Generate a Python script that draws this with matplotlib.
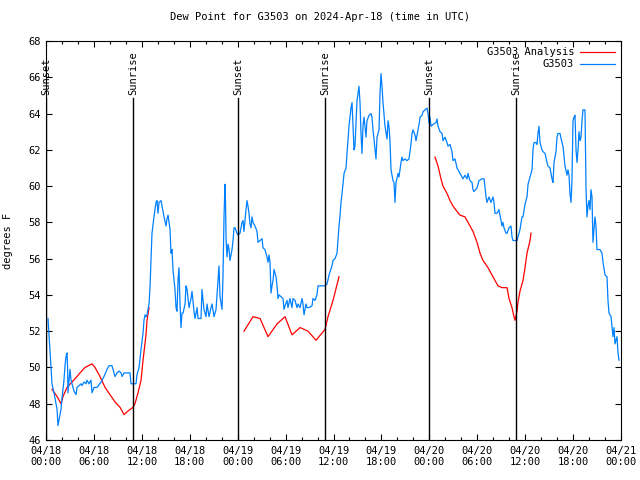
import matplotlib
matplotlib.use('Agg')
import matplotlib.pyplot as plt
from matplotlib.ticker import MultipleLocator

# hours since 2024-04-18 00:00 UTC
obs_hours = [0.25, 0.5, 0.63, 0.75, 1.0, 1.38, 1.5, 1.63, 1.88, 2.0, 2.25, 2.38, 2.5, 2.63, 2.7,
             2.75, 2.88, 3.0, 3.13, 3.25, 3.5, 3.76, 3.88, 4.13, 4.38, 4.51, 4.76, 5.01, 5.13,
             5.38, 5.63, 5.76, 6.01, 6.39, 6.89, 7.26, 7.64, 7.89, 8.26, 8.64, 8.89, 9.14, 9.39,
             9.52, 9.77, 10.14, 10.52, 10.64, 10.89, 11.27, 11.39, 11.65, 11.9, 12.15, 12.27,
             12.4, 12.52, 12.65, 12.9, 13.02, 13.15, 13.27, 13.52, 13.77, 13.9, 14.02, 14.15,
             14.4, 14.53, 14.78, 15.03, 15.15, 15.28, 15.53, 15.65, 15.78, 15.9, 16.15, 16.28,
             16.4, 16.53, 16.65, 16.78, 16.9, 17.03, 17.16, 17.41, 17.53, 17.66, 17.91, 18.16,
             18.28, 18.53, 18.66, 18.91, 19.03, 19.41, 19.53, 19.78, 20.04, 20.16, 20.41, 20.66,
             20.79, 21.04, 21.29, 21.41, 21.66, 21.79, 22.04, 22.16, 22.29, 22.41, 22.48, 22.54,
             22.66, 22.79, 22.92, 23.04, 23.29, 23.42, 23.54, 23.67, 23.92, 24.04, 24.29, 24.54,
             24.67, 24.79, 25.04, 25.17, 25.29, 25.42, 25.54, 25.67, 25.8, 25.92, 26.17, 26.42,
             26.55, 26.8, 27.05, 27.17, 27.42, 27.67, 27.8, 27.92, 28.05, 28.17, 28.3, 28.43,
             28.55, 28.8, 28.93, 29.05, 29.18, 29.43, 29.68, 29.8, 29.93, 30.18, 30.3, 30.55,
             30.8, 30.93, 31.18, 31.43, 31.56, 31.81, 32.06, 32.18, 32.31, 32.56, 32.68, 32.93,
             33.31, 33.43, 33.68, 33.93, 34.06, 34.56, 34.94, 35.19, 35.44, 35.81, 35.94, 36.19,
             36.44, 36.56, 36.69, 36.82, 36.94, 37.07, 37.32, 37.57, 37.69, 37.94, 38.19, 38.32,
             38.44, 38.57, 38.69, 38.94, 39.07, 39.19, 39.32, 39.44, 39.57, 39.69, 39.82, 39.94,
             40.07, 40.19, 40.45, 40.7, 40.82, 40.95, 41.2, 41.32, 41.45, 41.7, 41.82, 41.95,
             42.07, 42.2, 42.45, 42.7, 42.83, 42.95, 43.08, 43.2, 43.45, 43.58, 43.7, 43.83,
             44.08, 44.2, 44.45, 44.58, 44.7, 44.95, 45.2, 45.45, 45.7, 45.83, 45.96, 46.21,
             46.33, 46.46, 46.71, 46.83, 47.08, 47.21, 47.46, 47.71, 47.83, 47.96, 48.08, 48.21,
             48.46, 48.84, 48.96, 49.09, 49.34, 49.59, 49.71, 49.96, 50.21, 50.34, 50.59, 50.84,
             50.96, 51.21, 51.47, 51.59, 51.84, 52.09, 52.22, 52.47, 52.72, 52.84, 53.09, 53.34,
             53.47, 53.59, 53.97, 54.22, 54.6, 54.85, 55.1, 55.22, 55.47, 55.72, 55.97, 56.1,
             56.22, 56.47, 56.72, 56.97, 57.1, 57.22, 57.35, 57.6, 57.73, 57.98, 58.23, 58.35,
             58.48, 58.98, 59.1, 59.35, 59.6, 59.73, 59.98, 60.23, 60.36, 60.61, 60.86, 60.98,
             61.11, 61.36, 61.48, 61.61, 61.73, 61.86, 62.11, 62.24, 62.49, 62.74, 62.86, 63.11,
             63.36, 63.49, 63.61, 63.86, 63.99, 64.11, 64.36, 64.61, 64.74, 64.99, 65.24, 65.36,
             65.49, 65.61, 65.74, 65.86, 65.99, 66.12, 66.24, 66.37, 66.49, 66.62, 66.74, 66.87,
             66.99, 67.12, 67.24, 67.49, 67.62, 67.74, 67.87, 67.99, 68.12, 68.24, 68.37, 68.49,
             68.62, 68.74, 68.87, 68.99, 69.37, 69.62, 69.75, 70.0, 70.25, 70.37, 70.5, 70.75,
             71.0, 71.13, 71.25, 71.5, 71.63, 71.75]
obs_dewpt = [52.7, 50.9, 50.0, 49.1, 48.6, 47.7, 46.8, 47.1, 47.7, 48.3, 49.3, 50.1, 50.6, 50.8, 50.0,
             48.6, 49.3, 49.9, 49.3, 49.1, 48.7, 48.5, 48.9, 49.0, 49.1, 49.0, 49.2, 49.1, 49.3,
             49.1, 49.3, 48.6, 48.9, 48.9, 49.2, 49.5, 49.9, 50.1, 50.1, 49.5, 49.7, 49.8, 49.7,
             49.5, 49.7, 49.7, 49.7, 49.1, 49.1, 49.1, 49.6, 50.0, 51.0, 51.9, 52.6,
             52.9, 52.8, 52.9, 53.5, 54.4, 55.9, 57.4, 58.3, 59.1, 59.2, 58.5, 59.1,
             59.2, 58.9, 58.3, 57.8, 58.2, 58.4, 57.6, 56.3, 56.5, 55.4, 54.3, 53.3,
             53.1, 54.8, 55.5, 53.5, 52.2, 53.0, 53.0, 53.5, 54.5, 54.3, 53.3, 53.8,
             54.2, 53.1, 52.7, 53.3, 52.7, 52.7, 54.3, 53.2, 52.8, 53.5, 52.8, 53.3,
             53.5, 52.8, 53.2, 54.0, 55.6, 53.9, 53.2, 55.0, 58.3, 60.1, 59.1, 57.2,
             56.1, 56.8, 56.5, 55.9, 56.5, 57.0, 57.7, 57.7, 57.4, 57.3, 57.4, 58.0,
             58.1, 57.5, 58.7, 59.2, 58.9, 58.5, 57.9, 57.7, 58.3, 58.0, 57.8, 57.5,
             56.9, 57.0, 57.1, 56.6, 56.5, 56.1, 55.8, 56.2, 55.8, 54.1, 54.5, 54.8,
             55.4, 55.0, 54.5, 53.8, 54.0, 53.9, 53.8, 53.2, 53.4, 53.7, 53.3, 53.8,
             53.3, 53.8, 53.7, 53.3, 53.5, 53.3, 53.8, 53.5, 52.9, 53.5, 53.3, 53.3,
             53.4, 53.8, 53.7, 54.0, 54.5, 54.5, 54.5, 54.6, 55.1, 55.6, 55.9, 56.0,
             56.3, 57.0, 57.8, 58.4, 59.1, 59.6, 60.7, 61.0, 61.8, 63.3, 64.3, 64.6,
             63.3, 62.0, 62.2, 64.7, 65.1, 65.5, 64.6, 62.9, 61.8, 63.3, 63.8, 63.3,
             62.7, 63.6, 63.9, 64.0, 63.8, 63.1, 62.0, 61.5, 62.7, 63.1, 65.1, 66.2,
             65.5, 64.6, 63.3, 62.6, 63.6, 63.3, 62.4, 60.9, 60.3, 60.2, 59.1, 60.2,
             60.7, 60.5, 61.3, 61.6, 61.4, 61.5, 61.4, 61.5, 62.3, 62.9, 63.1, 62.8,
             62.5, 62.8, 63.4, 63.8, 63.9, 64.1, 64.2, 64.3, 64.0, 63.5, 63.8, 63.3,
             63.4, 63.5, 63.7, 63.3, 63.0, 62.9, 62.5, 62.7, 62.4, 62.2, 62.3, 61.9,
             61.4, 61.5, 61.0, 60.9, 60.7, 60.5, 60.4, 60.6, 60.4, 60.7, 60.3, 60.2,
             59.8, 59.7, 59.9, 60.3, 60.4, 60.4, 59.4, 59.1, 59.4, 59.1, 59.4, 59.1,
             58.5, 58.5, 58.7, 58.1, 57.8, 58.0, 57.7, 57.4, 57.4, 57.7, 57.8, 57.2,
             57.0, 57.0, 57.2, 57.6, 58.3, 58.3, 59.0, 59.4, 60.1, 60.5, 60.9, 62.0,
             62.4, 62.4, 62.3, 62.9, 63.3, 62.4, 62.0, 61.9, 61.8, 61.3, 61.1, 61.0,
             60.4, 60.2, 61.3, 61.9, 62.7, 62.9, 62.9, 62.4, 62.2, 61.1, 60.6, 60.9,
             60.6, 59.6, 59.1, 60.3, 63.6, 63.8, 63.9, 62.0, 61.3, 62.0, 63.0, 62.5,
             62.7, 63.6, 64.2, 64.2, 59.9, 58.3, 58.9, 59.2, 58.7, 59.8, 59.4, 56.9,
             57.6, 58.3, 57.8, 56.5, 56.5, 56.3, 55.8, 55.1, 55.0, 53.7, 53.0, 52.8,
             51.7, 52.2, 51.3, 51.7, 50.8, 50.4]

# analysis: three separate runs
ana1_hours = [0.75, 1.38, 1.88, 2.13, 2.63, 3.26, 3.88, 4.26, 4.88, 5.76, 6.14, 6.76, 7.39, 8.01,
              8.64, 9.27, 9.77, 10.27, 10.89, 11.14, 11.52, 11.9, 12.15, 12.52, 12.65, 12.9]
ana1_dewpt = [48.8, 48.4, 48.0, 48.4, 48.9, 49.2, 49.5, 49.7, 50.0, 50.2, 50.0, 49.5, 48.9, 48.5,
              48.1, 47.8, 47.4, 47.6, 47.8, 48.0, 48.6, 49.3, 50.4, 51.8, 52.6, 53.3]
ana2_hours = [24.79, 25.92, 26.8, 27.8, 28.93, 29.93, 30.8, 31.81, 32.81, 33.81, 34.94, 35.31,
              35.94, 36.69]
ana2_dewpt = [52.0, 52.8, 52.7, 51.7, 52.4, 52.8, 51.8, 52.2, 52.0, 51.5, 52.1, 52.8, 53.7, 55.0]
ana3_hours = [48.71, 49.09, 49.46, 49.71, 50.21, 50.59, 50.96, 51.47, 51.84, 52.47, 52.84, 53.47,
              53.97, 54.35, 54.72, 55.35, 55.97, 56.6, 57.1, 57.73, 57.98, 58.35, 58.6, 58.73,
              58.98, 59.1, 59.35, 59.73, 59.98, 60.23, 60.61, 60.73]
ana3_dewpt = [61.6, 61.1, 60.4, 60.0, 59.6, 59.2, 58.9, 58.6, 58.4, 58.3, 58.0, 57.5,
              56.9, 56.3, 55.9, 55.5, 55.0, 54.5, 54.4, 54.4, 53.8, 53.3, 52.8, 52.6,
              53.1, 53.6, 54.2, 54.8, 55.5, 56.3, 57.0, 57.4]

sun_hours = [0.0, 10.93, 24.05, 34.97, 48.0, 58.9]
sun_labels = ['Sunset', 'Sunrise', 'Sunset', 'Sunrise', 'Sunset', 'Sunrise']

tick_hours = list(range(0, 73, 6))
tick_labels = ['04/18\n00:00', '04/18\n06:00', '04/18\n12:00', '04/18\n18:00',
               '04/19\n00:00', '04/19\n06:00', '04/19\n12:00', '04/19\n18:00',
               '04/20\n00:00', '04/20\n06:00', '04/20\n12:00', '04/20\n18:00',
               '04/21\n00:00']

plt.rcParams['font.family'] = 'DejaVu Sans Mono'
plt.rcParams['font.size'] = 7.5

fig = plt.figure(figsize=(6.4, 4.8), dpi=100)
ax = fig.add_axes([0.0719, 0.0833, 0.8984, 0.8313])

red = '#ff0000'
blue = '#0080ff'

ax.plot(ana1_hours, ana1_dewpt, color=red, lw=0.9, label='G3503 Analysis')
ax.plot(ana2_hours, ana2_dewpt, color=red, lw=0.9)
ax.plot(ana3_hours, ana3_dewpt, color=red, lw=0.9)
ax.plot(obs_hours, obs_dewpt, color=blue, lw=0.9, label='G3503')

for h, lab in zip(sun_hours, sun_labels):
    ax.plot([h, h], [46, 64.86], color='black', lw=1.0)
    ax.text(h, 65.0, lab, rotation=90, ha='center', va='bottom')

ax.set_xlim(0, 72)
ax.set_ylim(46, 68)
ax.set_xticks(tick_hours)
ax.set_xticklabels(tick_labels)
ax.xaxis.set_minor_locator(MultipleLocator(2))
ax.set_yticks(range(46, 69, 2))
ax.tick_params(which='both', direction='in', top=True, right=True, width=0.8)
ax.tick_params(which='major', length=4.5, pad=4)
ax.tick_params(which='minor', length=2.2)
for s in ax.spines.values():
    s.set_linewidth(0.8)

ax.set_ylabel('degrees F')
ax.yaxis.set_label_coords(-0.057, 0.5)
fig.suptitle('Dew Point for G3503 on 2024-Apr-18 (time in UTC)', y=0.975, fontsize=7.5)

ax.legend(loc='upper right', frameon=False, markerfirst=False, handlelength=3.3,
          handletextpad=0.6, borderaxespad=0.2, labelspacing=0.2)

fig.savefig('out.png', dpi=100)
